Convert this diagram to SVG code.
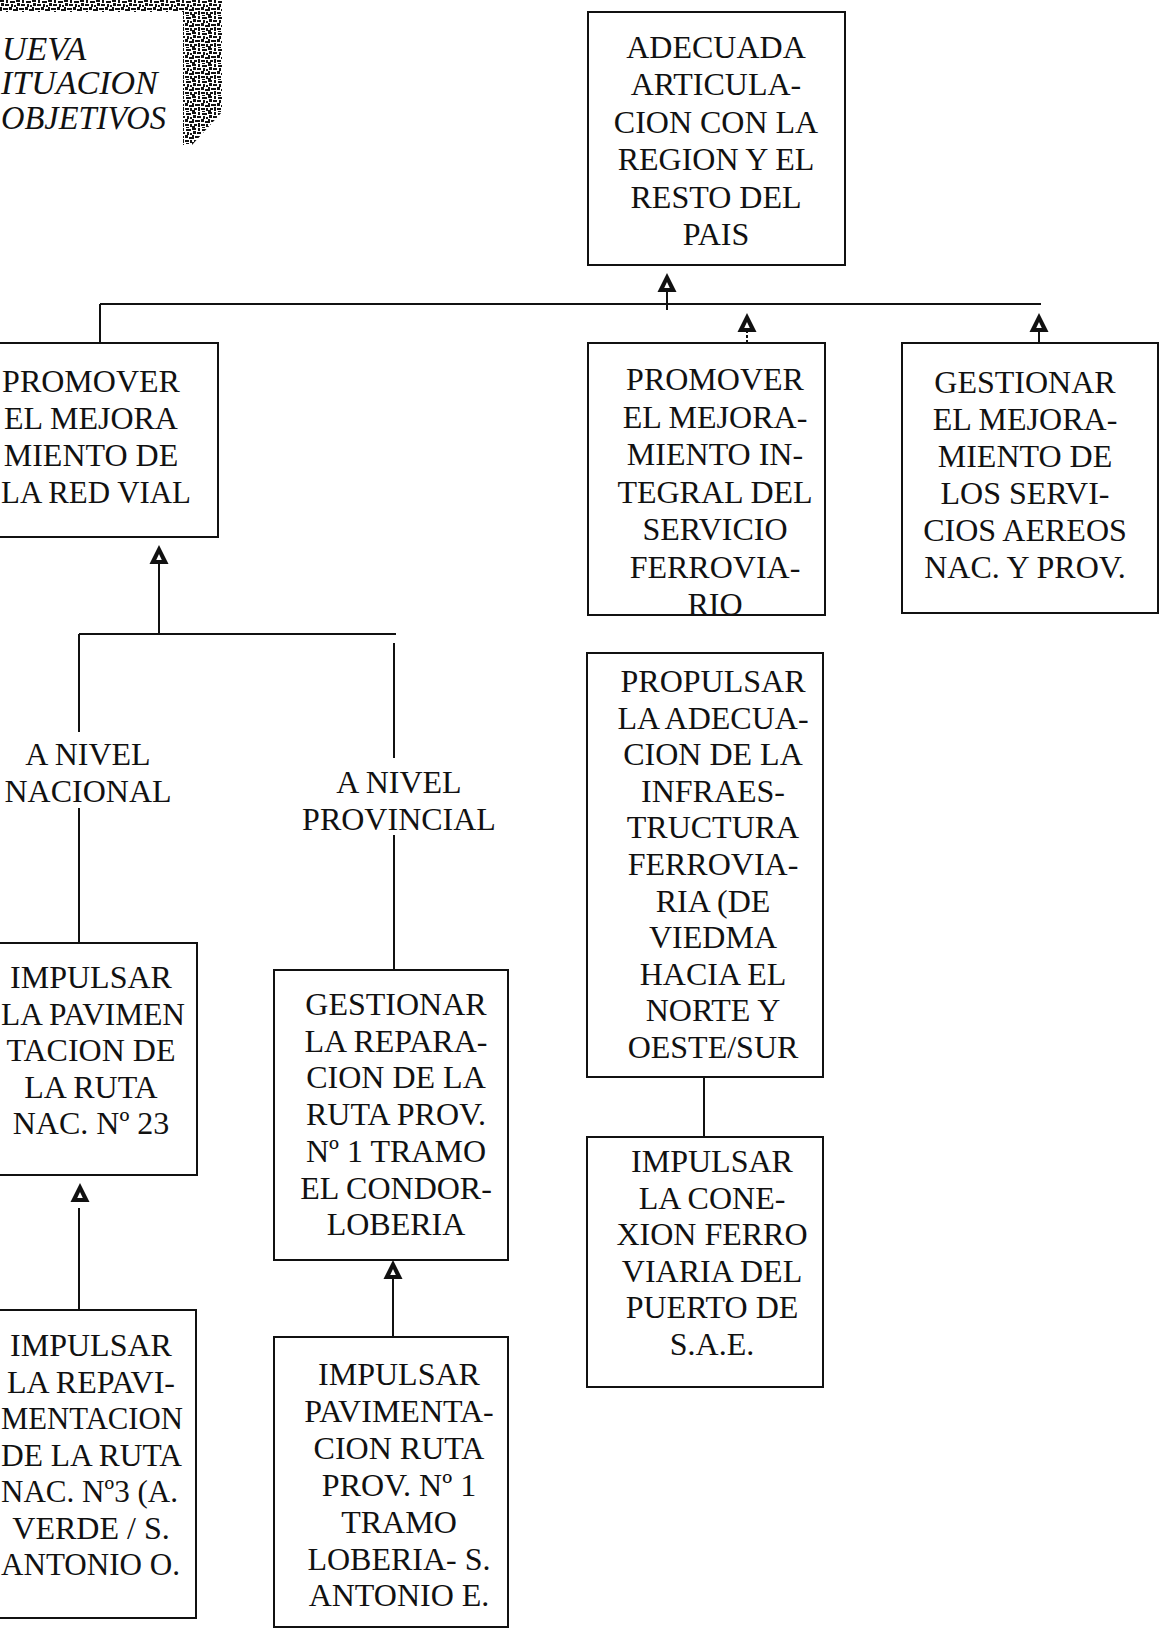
<svg xmlns="http://www.w3.org/2000/svg" width="1161" height="1635" viewBox="0 0 1161 1635">
<style>
.box{fill:#fff;stroke:#111;stroke-width:2}
.t{font-family:"Liberation Serif","Times New Roman",serif;font-size:32px;fill:#111;text-anchor:middle}
.ban{font-family:"Liberation Serif","Times New Roman",serif;font-size:34px;font-style:italic;fill:#111}
.c{stroke:#111;stroke-width:2;fill:none}
.g{fill:#111}
</style>
<defs>
<pattern id="grain" width="16" height="16" patternUnits="userSpaceOnUse">
<rect width="16" height="16" fill="#fff"/>
<rect class="g" x="0" y="0" width="4" height="2"/>
<rect class="g" x="6" y="0" width="2" height="3"/>
<rect class="g" x="10" y="1" width="5" height="2"/>
<rect class="g" x="1" y="3" width="3" height="3"/>
<rect class="g" x="5" y="4" width="4" height="2"/>
<rect class="g" x="11" y="4" width="2" height="3"/>
<rect class="g" x="14" y="5" width="2" height="2"/>
<rect class="g" x="0" y="7" width="2" height="4"/>
<rect class="g" x="3" y="8" width="5" height="2"/>
<rect class="g" x="9" y="7" width="3" height="3"/>
<rect class="g" x="13" y="9" width="3" height="2"/>
<rect class="g" x="2" y="12" width="3" height="2"/>
<rect class="g" x="6" y="11" width="2" height="4"/>
<rect class="g" x="9" y="12" width="4" height="2"/>
<rect class="g" x="14" y="12" width="2" height="3"/>
<rect class="g" x="0" y="14" width="3" height="2"/>
<rect class="g" x="10" y="15" width="3" height="1"/>
</pattern>
<symbol id="ah" overflow="visible">
<path d="M0,0 L9.5,19 L-9.5,19 Z" fill="#111"/>
<path d="M0,9 L2.8,15 L-2.8,15 Z" fill="#fff"/>
</symbol>
</defs>
<rect width="1161" height="1635" fill="#fff"/>

<g id="banner">
<polygon points="0,0 222,0 222,112 192,145 183,145 183,12 0,12" fill="url(#grain)"/>
<text class="ban" x="2" y="60">UEVA</text>
<text class="ban" x="1" y="94">ITUACION</text>
<text class="ban" x="1" y="129" textLength="165" lengthAdjust="spacingAndGlyphs">OBJETIVOS</text>
</g>

<g id="connectors">
<line class="c" x1="667" y1="310" x2="667" y2="290"/>
<use href="#ah" x="667" y="273"/>
<line class="c" x1="100" y1="304" x2="1041" y2="304"/>
<line class="c" x1="100" y1="304" x2="100" y2="343"/>
<line class="c" x1="747" y1="343" x2="747" y2="330" stroke-dasharray="3 2"/>
<use href="#ah" x="747" y="313"/>
<line class="c" x1="1039" y1="343" x2="1039" y2="330"/>
<use href="#ah" x="1039" y="313"/>
<use href="#ah" x="159" y="545"/>
<line class="c" x1="159" y1="563" x2="159" y2="634"/>
<line class="c" x1="79" y1="634" x2="396" y2="634"/>
<line class="c" x1="79" y1="634" x2="79" y2="732"/>
<line class="c" x1="79" y1="808" x2="79" y2="943"/>
<line class="c" x1="394" y1="643" x2="394" y2="758"/>
<line class="c" x1="394" y1="835" x2="394" y2="970"/>
<use href="#ah" x="80" y="1183"/>
<line class="c" x1="79" y1="1208" x2="79" y2="1310"/>
<use href="#ah" x="393" y="1260"/>
<line class="c" x1="393" y1="1277" x2="393" y2="1337"/>
<line class="c" x1="704" y1="1077" x2="704" y2="1137"/>
</g>

<g id="n-adecuada">
<rect class="box" x="588" y="12" width="257" height="253"/>
<text class="t"><tspan x="716" y="58">ADECUADA</tspan><tspan x="716" y="95.4">ARTICULA-</tspan><tspan x="716" y="132.8">CION CON LA</tspan><tspan x="716" y="170.2">REGION Y EL</tspan><tspan x="716" y="207.6">RESTO DEL</tspan><tspan x="716" y="245">PAIS</tspan></text>
</g>

<g id="n-redvial">
<rect class="box" x="-20" y="343" width="238" height="194"/>
<text class="t" x="91" y="392">PROMOVER</text>
<text class="t" x="91" y="429">EL MEJORA</text>
<text class="t" x="91" y="466">MIENTO DE</text>
<text class="t" x="96" y="503" textLength="190" lengthAdjust="spacingAndGlyphs">LA RED VIAL</text>
</g>

<g id="n-ferro">
<rect class="box" x="588" y="343" width="237" height="272"/>
<text class="t"><tspan x="715" y="390">PROMOVER</tspan><tspan x="715" y="427.5">EL MEJORA-</tspan><tspan x="715" y="465">MIENTO IN-</tspan><tspan x="715" y="502.5">TEGRAL DEL</tspan><tspan x="715" y="540">SERVICIO</tspan><tspan x="715" y="577.5">FERROVIA-</tspan><tspan x="715" y="615">RIO</tspan></text>
</g>

<g id="n-aereos">
<rect class="box" x="902" y="343" width="256" height="270"/>
<text class="t"><tspan x="1025" y="393">GESTIONAR</tspan><tspan x="1025" y="430">EL MEJORA-</tspan><tspan x="1025" y="467">MIENTO DE</tspan><tspan x="1025" y="504">LOS SERVI-</tspan><tspan x="1025" y="541">CIOS AEREOS</tspan><tspan x="1025" y="578">NAC. Y PROV.</tspan></text>
</g>

<g id="l-nacional">
<text class="t"><tspan x="88" y="765">A NIVEL</tspan><tspan x="88" y="802">NACIONAL</tspan></text>
</g>

<g id="l-provincial">
<text class="t"><tspan x="399" y="793">A NIVEL</tspan><tspan x="399" y="830">PROVINCIAL</tspan></text>
</g>

<g id="n-propulsar">
<rect class="box" x="587" y="653" width="236" height="424"/>
<text class="t"><tspan x="713" y="692">PROPULSAR</tspan><tspan x="713" y="728.6">LA ADECUA-</tspan><tspan x="713" y="765.2">CION DE LA</tspan><tspan x="713" y="801.8">INFRAES-</tspan><tspan x="713" y="838.4">TRUCTURA</tspan><tspan x="713" y="875">FERROVIA-</tspan><tspan x="713" y="911.6">RIA (DE</tspan><tspan x="713" y="948.2">VIEDMA</tspan><tspan x="713" y="984.8">HACIA EL</tspan><tspan x="713" y="1021.4">NORTE Y</tspan><tspan x="713" y="1058">OESTE/SUR</tspan></text>
</g>

<g id="n-conexion">
<rect class="box" x="587" y="1137" width="236" height="250"/>
<text class="t"><tspan x="712" y="1172">IMPULSAR</tspan><tspan x="712" y="1208.6">LA CONE-</tspan><tspan x="712" y="1245.2">XION FERRO</tspan><tspan x="712" y="1281.8">VIARIA DEL</tspan><tspan x="712" y="1318.4">PUERTO DE</tspan><tspan x="712" y="1355">S.A.E.</tspan></text>
</g>

<g id="n-ruta23">
<rect class="box" x="-20" y="943" width="217" height="232"/>
<text class="t" x="91" y="988">IMPULSAR</text>
<text class="t" x="93" y="1024.5" textLength="184" lengthAdjust="spacingAndGlyphs">LA PAVIMEN</text>
<text class="t" x="91" y="1061">TACION DE</text>
<text class="t" x="91" y="1097.5">LA RUTA</text>
<text class="t" x="91" y="1134">NAC. Nº 23</text>
</g>

<g id="n-ruta3">
<rect class="box" x="-20" y="1310" width="216" height="308"/>
<text class="t" x="91" y="1356">IMPULSAR</text>
<text class="t" x="91" y="1392.5">LA REPAVI-</text>
<text class="t" x="92" y="1429" textLength="182" lengthAdjust="spacingAndGlyphs">MENTACION</text>
<text class="t" x="91.5" y="1465.5" textLength="181" lengthAdjust="spacingAndGlyphs">DE LA RUTA</text>
<text class="t" x="89.5" y="1502" textLength="177" lengthAdjust="spacingAndGlyphs">NAC. Nº3 (A.</text>
<text class="t" x="91" y="1538.5">VERDE / S.</text>
<text class="t" x="90.5" y="1575" textLength="179" lengthAdjust="spacingAndGlyphs">ANTONIO O.</text>
</g>

<g id="n-reparacion">
<rect class="box" x="274" y="970" width="234" height="290"/>
<text class="t"><tspan x="396" y="1015">GESTIONAR</tspan><tspan x="396" y="1051.7">LA REPARA-</tspan><tspan x="396" y="1088.4">CION DE LA</tspan><tspan x="396" y="1125.1">RUTA PROV.</tspan><tspan x="396" y="1161.8">Nº 1 TRAMO</tspan><tspan x="396" y="1198.5">EL CONDOR-</tspan><tspan x="396" y="1235">LOBERIA</tspan></text>
</g>

<g id="n-pavimentacion">
<rect class="box" x="274" y="1337" width="234" height="290"/>
<text class="t"><tspan x="399" y="1385">IMPULSAR</tspan><tspan x="399" y="1421.9">PAVIMENTA-</tspan><tspan x="399" y="1458.8">CION RUTA</tspan><tspan x="399" y="1495.7">PROV. Nº 1</tspan><tspan x="399" y="1532.6">TRAMO</tspan><tspan x="399" y="1569.5">LOBERIA- S.</tspan><tspan x="399" y="1606">ANTONIO E.</tspan></text>
</g>
</svg>
